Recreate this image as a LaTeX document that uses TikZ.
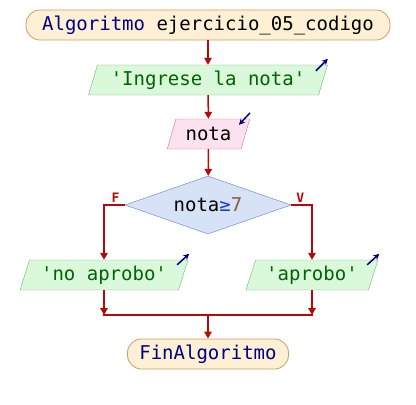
\documentclass[tikz,border=0pt]{standalone}
\usepackage{fontspec}
\setmonofont{DejaVu Sans Mono}
\usetikzlibrary{shapes.geometric, arrows.meta}
\definecolor{linea}{RGB}{180,10,10}
\definecolor{fondoini}{RGB}{253,240,212}
\definecolor{bordeini}{RGB}{200,160,100}
\definecolor{fondosal}{RGB}{218,248,218}
\definecolor{bordesal}{RGB}{110,180,110}
\definecolor{textosal}{RGB}{0,100,0}
\definecolor{fondoent}{RGB}{252,226,238}
\definecolor{bordeent}{RGB}{215,110,150}
\definecolor{fondocond}{RGB}{214,226,246}
\definecolor{bordecond}{RGB}{100,125,195}
\definecolor{azul}{RGB}{0,0,130}
\definecolor{azulop}{RGB}{30,60,210}
\definecolor{marron}{RGB}{140,90,60}
\tikzset{
  texto/.style={font=\ttfamily\fontsize{19}{22}\selectfont},
  inicio/.style={texto, draw=bordeini, fill=fondoini, rounded corners=14pt, minimum height=30pt, line width=0.8pt},
  salida/.style={texto, trapezium, trapezium left angle=72, trapezium right angle=108, trapezium stretches=true, draw=bordesal, fill=fondosal, text=textosal, minimum height=30pt, inner xsep=2pt},
  entrada/.style={salida, draw=bordeent, fill=fondoent, text=black},
  condicion/.style={texto, diamond, aspect=2.86, draw=bordecond, fill=fondocond, minimum width=166pt, minimum height=58pt, inner sep=0pt},
  flecha/.style={draw=linea, line width=1.5pt, -{Triangle[length=7pt,width=7.5pt]}},
  linea/.style={draw=linea, line width=1.5pt},
  icono/.style={draw=azul, line width=1.5pt, -{Stealth[length=6pt,width=6pt]}},
  etiqueta/.style={text=linea, font=\ttfamily\bfseries\fontsize{13}{14}\selectfont, inner sep=2pt}
}
\begin{document}
\begin{tikzpicture}[x=1pt,y=-1pt]
\useasboundingbox (0,0) rectangle (416,405);
% nodos
\node[inicio, minimum width=364pt] (ini) at (208,25) {{\color{azul}Algoritmo} ejercicio\_05\_codigo};
\node[salida, minimum width=240pt] (msg) at (208,80) {'Ingrese la nota'};
\node[entrada, minimum width=83pt] (nota) at (208.5,134) {nota};
\node[condicion] (cond) at (208,205) {nota{\color{azulop}≥}{\color{marron}7}};
\node[salida, minimum width=168pt] (no) at (104,275) {'no aprobo'};
\node[salida, minimum width=132pt] (si) at (312,275) {'aprobo'};
\node[inicio, minimum width=161pt, text=azul] (fin) at (208,354) {FinAlgoritmo};
\coordinate (union) at (208,315);
% iconos
\draw[icono] ([xshift=-12pt,yshift=-6pt]msg.top right corner) -- ++(12pt,12pt);
\draw[icono] ([yshift=6pt]nota.top right corner) -- ++(-11pt,-12pt);
\draw[icono] ([xshift=-11pt,yshift=-5pt]no.top right corner) -- ++(12pt,11pt);
\draw[icono] ([xshift=-11pt,yshift=-5pt]si.top right corner) -- ++(12pt,11pt);
% conectores
\draw[flecha] (ini) -- (msg);
\draw[flecha] (msg) -- (nota);
\draw[flecha] (nota) -- (cond);
\draw[flecha] (cond.west) -| node[pos=0.22, above, etiqueta]{F} (no.north);
\draw[flecha] (cond.east) -| node[pos=0.22, above, etiqueta]{V} (si.north);
\draw[flecha] (no.south) -- (no.south |- union);
\draw[flecha] (si.south) -- (si.south |- union);
\draw[linea] ([xshift=-0.75pt]no.south |- union) -- ([xshift=0.75pt]si.south |- union);
\draw[flecha] (union) -- (fin);
\end{tikzpicture}
\end{document}
